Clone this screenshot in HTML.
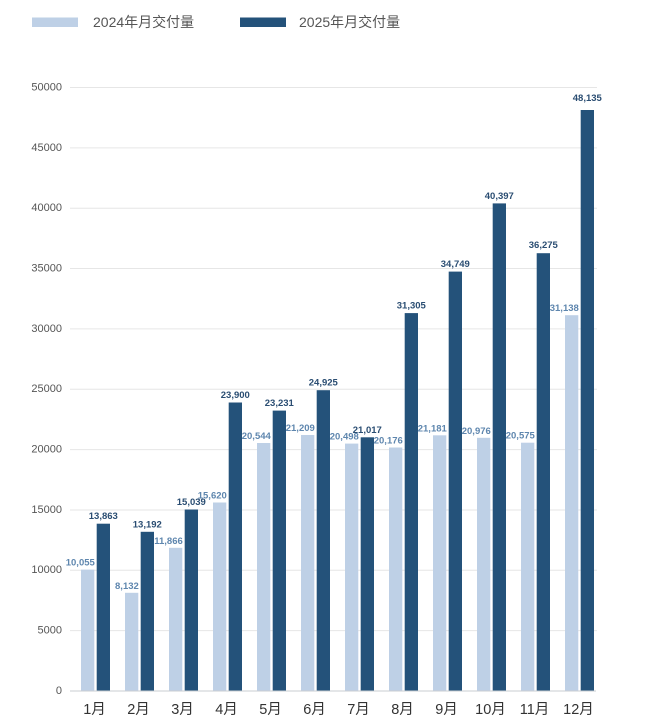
<!DOCTYPE html>
<html><head><meta charset="utf-8"><style>
html,body{margin:0;padding:0;background:#fff;}
svg{display:block;}
.yl{font-family:"Liberation Sans","Noto Sans CJK SC",sans-serif;font-size:11px;fill:#555;}
.xl{font-family:"Liberation Sans","Noto Sans CJK SC",sans-serif;font-size:14.5px;fill:#333;}
.lg{font-family:"Liberation Sans","Noto Sans CJK SC",sans-serif;font-size:14px;fill:#555;}
.vl{font-family:"Liberation Sans",sans-serif;font-size:9.5px;font-weight:bold;fill:#5e86ae;}
.vd{font-family:"Liberation Sans",sans-serif;font-size:9.5px;font-weight:bold;fill:#2a4d72;}
</style></head><body>
<svg width="650" height="728" viewBox="0 0 650 728" xmlns="http://www.w3.org/2000/svg">
<rect x="32" y="17.5" width="46" height="9.5" fill="#bed0e6"/>
<text class="lg" x="93" y="27">2024年月交付量</text>
<rect x="240" y="17.5" width="46" height="9.5" fill="#24527a"/>
<text class="lg" x="299" y="27">2025年月交付量</text>
<g stroke="#e6e6e6" stroke-width="1">
<line x1="70" x2="597" y1="87.5" y2="87.5"/>
<line x1="70" x2="597" y1="147.85" y2="147.85"/>
<line x1="70" x2="597" y1="208.2" y2="208.2"/>
<line x1="70" x2="597" y1="268.55" y2="268.55"/>
<line x1="70" x2="597" y1="328.9" y2="328.9"/>
<line x1="70" x2="597" y1="389.25" y2="389.25"/>
<line x1="70" x2="597" y1="449.6" y2="449.6"/>
<line x1="70" x2="597" y1="509.95" y2="509.95"/>
<line x1="70" x2="597" y1="570.3" y2="570.3"/>
<line x1="70" x2="597" y1="630.65" y2="630.65"/>
</g>
<g text-anchor="end" dominant-baseline="middle">
<text class="yl" x="62" y="87.5">50000</text>
<text class="yl" x="62" y="147.85">45000</text>
<text class="yl" x="62" y="208.2">40000</text>
<text class="yl" x="62" y="268.55">35000</text>
<text class="yl" x="62" y="328.9">30000</text>
<text class="yl" x="62" y="389.25">25000</text>
<text class="yl" x="62" y="449.6">20000</text>
<text class="yl" x="62" y="509.95">15000</text>
<text class="yl" x="62" y="570.3">10000</text>
<text class="yl" x="62" y="630.65">5000</text>
<text class="yl" x="62" y="691">0</text>
</g>
<g fill="#bed0e6">
<rect x="81" y="569.6" width="13.3" height="121.4"/>
<rect x="125" y="592.8" width="13.3" height="98.2"/>
<rect x="169" y="547.8" width="13.3" height="143.2"/>
<rect x="213" y="502.5" width="13.3" height="188.5"/>
<rect x="257" y="443.0" width="13.3" height="248.0"/>
<rect x="301" y="435.0" width="13.3" height="256.0"/>
<rect x="345" y="443.6" width="13.3" height="247.4"/>
<rect x="389" y="447.5" width="13.3" height="243.5"/>
<rect x="433" y="435.3" width="13.3" height="255.7"/>
<rect x="477" y="437.8" width="13.3" height="253.2"/>
<rect x="521" y="442.7" width="13.3" height="248.3"/>
<rect x="565" y="315.2" width="13.3" height="375.8"/>
</g>
<g fill="#24527a">
<rect x="96.7" y="523.7" width="13.3" height="167.3"/>
<rect x="140.7" y="531.8" width="13.3" height="159.2"/>
<rect x="184.7" y="509.5" width="13.3" height="181.5"/>
<rect x="228.7" y="402.5" width="13.3" height="288.5"/>
<rect x="272.7" y="410.6" width="13.3" height="280.4"/>
<rect x="316.7" y="390.2" width="13.3" height="300.8"/>
<rect x="360.7" y="437.3" width="13.3" height="253.7"/>
<rect x="404.7" y="313.1" width="13.3" height="377.9"/>
<rect x="448.7" y="271.6" width="13.3" height="419.4"/>
<rect x="492.7" y="203.4" width="13.3" height="487.6"/>
<rect x="536.7" y="253.2" width="13.3" height="437.8"/>
<rect x="580.7" y="110.0" width="13.3" height="581.0"/>
</g>
<line x1="70" x2="596" y1="691" y2="691" stroke="#c9cdd2" stroke-width="1"/>
<g text-anchor="end">
<text class="vl" x="94.8" y="565.6">10,055</text>
<text class="vl" x="138.8" y="588.8">8,132</text>
<text class="vl" x="182.8" y="543.8">11,866</text>
<text class="vl" x="226.8" y="498.5">15,620</text>
<text class="vl" x="270.8" y="439.0">20,544</text>
<text class="vl" x="314.8" y="431.0">21,209</text>
<text class="vl" x="358.8" y="439.6">20,498</text>
<text class="vl" x="402.8" y="443.5">20,176</text>
<text class="vl" x="446.8" y="431.3">21,181</text>
<text class="vl" x="490.8" y="433.8">20,976</text>
<text class="vl" x="534.8" y="438.7">20,575</text>
<text class="vl" x="578.8" y="311.2">31,138</text>
</g>
<g text-anchor="middle">
<text class="vd" x="103.3" y="519.2">13,863</text>
<text class="vd" x="147.3" y="527.3">13,192</text>
<text class="vd" x="191.3" y="505.0">15,039</text>
<text class="vd" x="235.3" y="398.0">23,900</text>
<text class="vd" x="279.3" y="406.1">23,231</text>
<text class="vd" x="323.3" y="385.7">24,925</text>
<text class="vd" x="367.3" y="432.8">21,017</text>
<text class="vd" x="411.3" y="308.6">31,305</text>
<text class="vd" x="455.3" y="267.1">34,749</text>
<text class="vd" x="499.3" y="198.9">40,397</text>
<text class="vd" x="543.3" y="248.2">36,275</text>
<text class="vd" x="587.3" y="101.0">48,135</text>
</g>
<g text-anchor="middle">
<text class="xl" x="94.5" y="714">1月</text>
<text class="xl" x="138.5" y="714">2月</text>
<text class="xl" x="182.5" y="714">3月</text>
<text class="xl" x="226.5" y="714">4月</text>
<text class="xl" x="270.5" y="714">5月</text>
<text class="xl" x="314.5" y="714">6月</text>
<text class="xl" x="358.5" y="714">7月</text>
<text class="xl" x="402.5" y="714">8月</text>
<text class="xl" x="446.5" y="714">9月</text>
<text class="xl" x="490.5" y="714">10月</text>
<text class="xl" x="534.5" y="714">11月</text>
<text class="xl" x="578.5" y="714">12月</text>
</g>
</svg>
</body></html>
